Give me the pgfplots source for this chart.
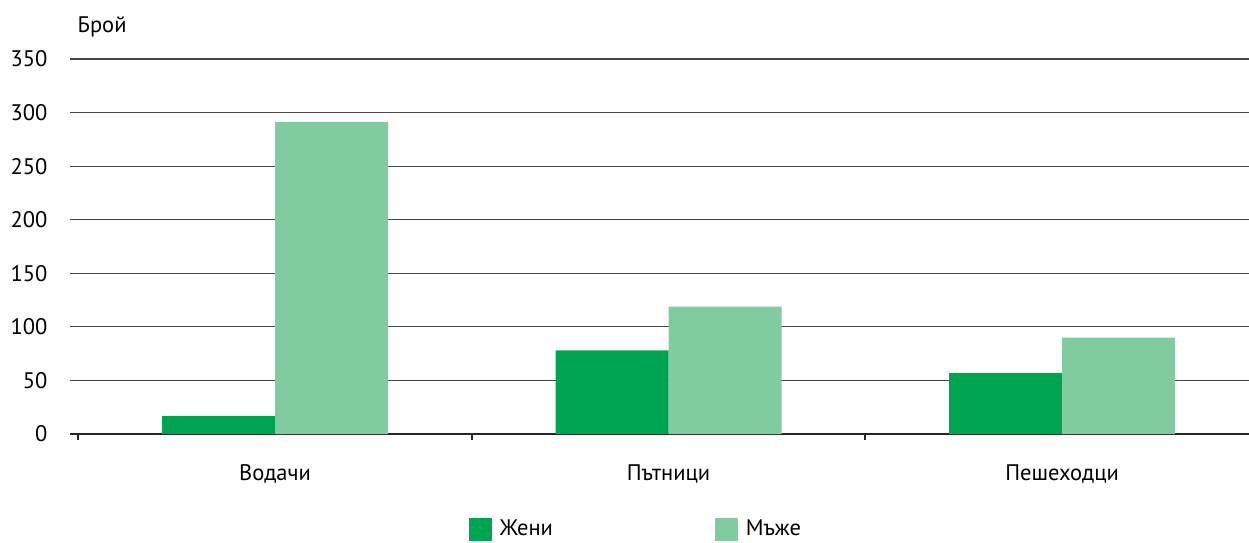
\documentclass[border=0pt]{standalone}
\usepackage{pgfplots}
\pgfplotsset{compat=1.18}
\usepackage{fontspec}
\setmainfont{PT Sans}
\definecolor{dgreen}{RGB}{0,165,81}
\definecolor{lgreen}{RGB}{128,203,160}
\definecolor{gridc}{RGB}{70,70,70}
\begin{document}
\fontsize{22.5bp}{27bp}\selectfont
\begin{tikzpicture}
\path[use as bounding box] (-70bp,-109bp) rectangle (1179bp,434bp);
\begin{axis}[
  at={(0,0)}, anchor=south west,
  scale only axis,
  width=1179bp, height=375bp,
  xmin=-0.521, xmax=2.475,
  ymin=0, ymax=350,
  ytick={0,50,100,150,200,250,300,350},
  xtick={0,1,2},
  xticklabels={Водачи,Пътници,Пешеходци},
  major tick length=0pt,
  extra x ticks={-0.5,0.5,1.5},
  extra x tick labels={},
  extra x tick style={major tick length=6bp, tick align=outside, tick style={line width=1.8bp, black!85}},
  axis x line*=bottom,
  axis y line*=left,
  y axis line style={draw=none},
  x axis line style={line width=1.8bp, black!85},
  ymajorgrids,
  grid style={line width=1.1bp, gridc},
  ybar=0pt,
  bar width=113bp,
  xticklabel style={yshift=-23bp},
  yticklabel style={xshift=-15bp},
  ylabel={Брой},
  ylabel style={rotate=-90, at={(rel axis cs:0,1)}, anchor=base west, yshift=26bp, xshift=0bp},
  /pgf/number format/assume math mode=true,
  legend columns=2,
  legend style={at={(rel axis cs:0.48,-0.2547)}, anchor=center, draw=none,
    /tikz/every odd column/.append style={column sep=6bp},
    /tikz/every even column/.append style={column sep=160bp}},
  legend image code/.code={\fill[#1] (0bp,-11.5bp) rectangle (23bp,11.5bp);},
]
\addplot[fill=dgreen, draw=none] coordinates {(0,17) (1,78) (2,57)};
\addplot[fill=lgreen, draw=none] coordinates {(0,291) (1,119) (2,90)};
\legend{Жени,Мъже}
\end{axis}
\end{tikzpicture}
\end{document}
